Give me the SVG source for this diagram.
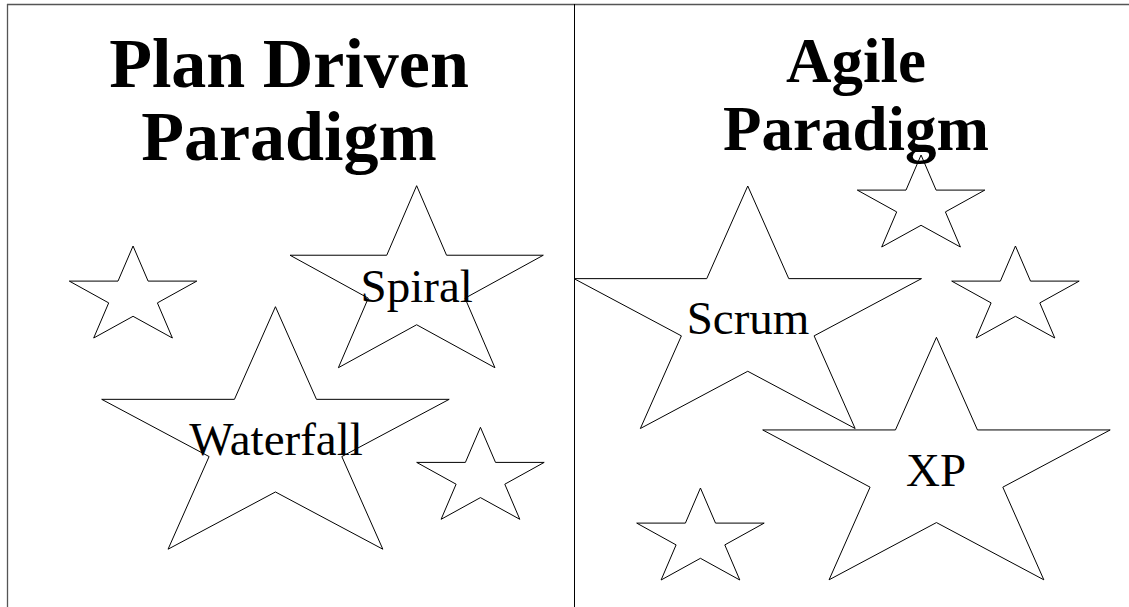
<svg xmlns="http://www.w3.org/2000/svg" width="1129" height="607" viewBox="0 0 1129 607">
<style>
.star{fill:#fff;stroke:#000;stroke-width:1;stroke-linejoin:miter}
.lbl{font-family:"Liberation Serif","Times New Roman",serif;font-size:47px;fill:#000;text-anchor:middle}
.title{font-family:"Liberation Serif","Times New Roman",serif;font-weight:bold;fill:#000;text-anchor:middle}
.frame{stroke:#555;stroke-width:1.3;fill:none}
</style>
<rect width="1129" height="607" fill="#fff"/>
<g id="frame">
<line class="frame" x1="7" y1="4.5" x2="1129" y2="4.5"/>
<line class="frame" x1="7.5" y1="4" x2="7.5" y2="607"/>
<line x1="574.5" y1="4" x2="574.5" y2="607" stroke="#000" stroke-width="1"/>
</g>
<g id="star-pd-small-1"><polygon class="star" points="133.05,246 148.1,281.1 196.8,281.1 157.4,302.9 172.4,338 133.05,316.3 93.7,338 108.7,302.9 69.3,281.1 118,281.1"/></g>
<g id="star-pd-small-2"><polygon class="star" points="480.45,427.3 495.5,462.4 544.2,462.4 504.8,484.2 519.8,519.3 480.45,497.6 441.1,519.3 456.1,484.2 416.7,462.4 465.4,462.4"/></g>
<g id="spiral"><polygon class="star" points="416.65,185.7 446.54,255.22 543.3,255.22 465.03,298.18 494.92,367.7 416.65,324.75 338.38,367.7 368.27,298.18 290,255.22 386.76,255.22"/><text class="lbl" x="416.7" y="301.7">Spiral</text></g>
<g id="waterfall"><polygon class="star" points="275.45,306.7 316.46,399.34 449.2,399.34 341.82,456.57 382.83,549.2 275.45,491.97 168.07,549.2 209.08,456.57 101.7,399.34 234.45,399.34"/><text class="lbl" x="276" y="455">Waterfall</text></g>
<g id="star-ag-small-1"><polygon class="star" points="921.05,155 936.1,190.1 984.8,190.1 945.4,211.9 960.4,247 921.05,225.3 881.7,247 896.7,211.9 857.3,190.1 906,190.1"/></g>
<g id="star-ag-small-2"><polygon class="star" points="1015.45,246 1030.5,281.1 1079.2,281.1 1039.8,302.9 1054.8,338 1015.45,316.3 976.1,338 991.1,302.9 951.7,281.1 1000.4,281.1"/></g>
<g id="star-ag-small-3"><polygon class="star" points="700.45,488 715.5,523.1 764.2,523.1 724.8,544.9 739.8,580 700.45,558.3 661.1,580 676.1,544.9 636.7,523.1 685.4,523.1"/></g>
<g id="xp"><polygon class="star" points="936.45,337.3 977.46,429.94 1110.2,429.94 1002.82,487.17 1043.83,579.8 936.45,522.57 829.07,579.8 870.08,487.17 762.7,429.94 895.45,429.94"/><text class="lbl" x="936" y="486">XP</text></g>
<g id="scrum"><polygon class="star" points="747.75,186 788.76,278.64 921.5,278.64 814.12,335.87 855.13,428.5 747.75,371.27 640.37,428.5 681.38,335.87 574,278.64 706.75,278.64"/><text class="lbl" x="748" y="334">Scrum</text></g>
<g id="title-plan-driven"><text class="title" font-size="70" x="289" y="86.7">Plan Driven</text><text class="title" font-size="70" x="289" y="160">Paradigm</text></g>
<g id="title-agile"><text class="title" font-size="63" x="856" y="82">Agile</text><text class="title" font-size="63" x="856" y="150">Paradigm</text></g>
</svg>
